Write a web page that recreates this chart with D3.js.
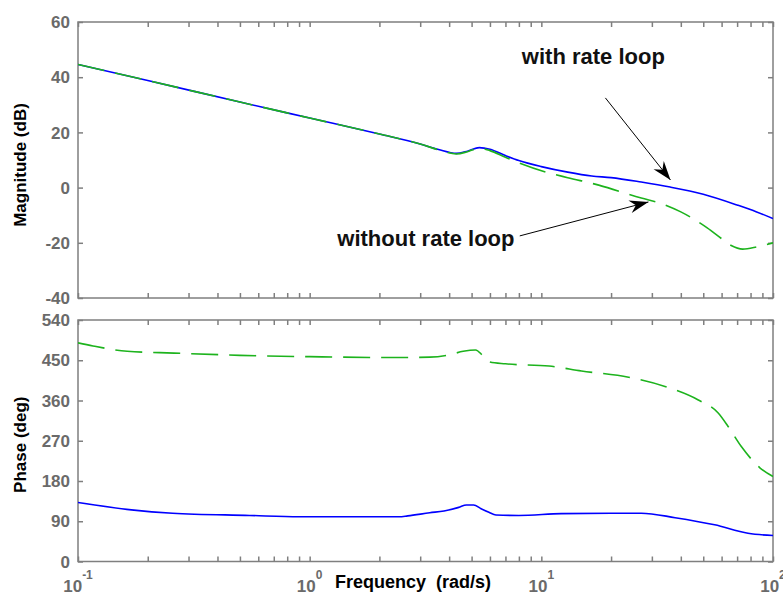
<!DOCTYPE html>
<html>
<head>
<meta charset="utf-8">
<script src="https://cdn.jsdelivr.net/npm/d3@7"></script>
<style>
  body { margin: 0; background: #fff; }
  text { font-family: "Liberation Sans", Arial, sans-serif; }
</style>
</head>
<body>
<div id="chart"></div>
<script>
// Data
const magWithFreq = [0.1, 0.2, 0.5, 1, 2, 3, 3.6, 4.3, 4.8, 5.4, 6, 7, 8, 10, 13, 16.5, 20, 27, 36, 50, 70, 85, 100];
const magWith     = [44.6, 38.8, 31.0, 25.2, 19.4, 15.8, 13.8, 12.4, 13.2, 14.5, 13.9, 11.6, 9.8, 7.6, 5.6, 4.2, 3.6, 2.0, 0.2, -2.4, -6.3, -8.8, -11.2];

const magWithoutFreq = [0.1, 0.2, 0.5, 1, 2, 3, 3.6, 4.3, 4.8, 5.4, 6, 7, 8, 10.8, 13, 17.7, 27, 33, 40, 52, 60, 66, 74, 85, 100];
const magWithout     = [44.6, 38.8, 31.0, 25.2, 19.4, 15.8, 13.7, 12.2, 13.0, 14.3, 13.4, 11.0, 9.0, 5.3, 3.6, 0.9, -3.8, -5.8, -8.8, -14.6, -18.5, -21.0, -22.3, -21.5, -20.0];

const phWithFreq = [0.1, 0.17, 0.256, 0.55, 0.9, 2.43, 2.65, 3.3, 3.8, 4.4, 4.75, 5.1, 5.5, 5.94, 6.37, 8, 12.2, 20, 27, 37.8, 56, 78, 100];
const phWith     = [132, 115.5, 108, 103, 100, 100, 102, 109, 113, 121, 126.5, 126.5, 118, 110, 104, 103, 107, 108, 108, 98, 82, 63, 58];

const phWithoutFreq = [0.1, 0.116, 0.163, 0.26, 0.5, 1, 2.4, 3.3, 4, 4.6, 5.2, 5.6, 6, 7, 10.8, 14.9, 23.8, 35.3, 47.6, 58, 64, 73, 88, 100];
const phWithout     = [489, 482, 470, 466, 461, 458, 456, 457, 462, 470, 473, 460, 446, 442, 437, 426, 412, 389, 361, 332, 302, 257, 209, 190];

const magTicks = [-40, -20, 0, 20, 40, 60];
const phTicks = [0, 90, 180, 270, 360, 450, 540];
const decades = [0.1, 1, 10, 100];
const decadeExp = ['-1', '0', '1', '2'];

// annotations: text anchor and arrow [from, to] in data units (freq, dB)
const notes = [
    { text: 'with rate loop', at: [8.24, 44.8], from: [18.9, 32.5], to: [36.1, 2.75] },
    { text: 'without rate loop', at: [1.316, -21.2], from: [8.07, -17.5], to: [29, -5.2] }
];

// Layout
const WIDTH = 783;
const HEIGHT = 597;
const LEFT = 78;
const RIGHT = 773;
const MAG_TOP = 22;
const MAG_BOT = 298;
const PH_TOP = 320;
const PH_BOT = 561.5;
const AXIS_COLOR = '#7f7f7f';
const LABEL_COLOR = '#6a6a6a';

const svg = d3.select('#chart').append('svg')
    .attr('width', WIDTH).attr('height', HEIGHT);

const x = d3.scaleLog().domain([0.1, 100]).range([LEFT, RIGHT]);
const yMag = d3.scaleLinear().domain([-40, 60]).range([MAG_BOT, MAG_TOP]);
const yPh = d3.scaleLinear().domain([0, 540]).range([PH_BOT, PH_TOP]);

const minor = x.ticks();

function buildPanel(y, ticks, top, bot, id) {
    const g = svg.append('g');

    svg.append('clipPath').attr('id', id)
        .append('rect')
        .attr('x', LEFT).attr('y', top)
        .attr('width', RIGHT - LEFT).attr('height', bot - top);

    // box
    g.append('rect')
        .attr('x', LEFT).attr('y', top)
        .attr('width', RIGHT - LEFT).attr('height', bot - top)
        .attr('fill', 'none')
        .attr('stroke', AXIS_COLOR)
        .attr('stroke-width', 1.5);

    // inward ticks on all four sides
    const axes = [
        [d3.axisBottom(x).tickValues(minor), `translate(0,${bot})`],
        [d3.axisTop(x).tickValues(minor), `translate(0,${top})`],
        [d3.axisLeft(y).tickValues(ticks), `translate(${LEFT},0)`],
        [d3.axisRight(y).tickValues(ticks), `translate(${RIGHT},0)`]
    ];
    axes.forEach(([axis, tr]) => {
        const a = g.append('g')
            .attr('transform', tr)
            .call(axis.tickSize(-5).tickSizeOuter(0).tickFormat(''));
        a.select('.domain').remove();
        a.selectAll('line').attr('stroke', AXIS_COLOR).attr('stroke-width', 1.5);
    });

    // y tick labels
    g.selectAll('.ylab')
        .data(ticks)
        .enter().append('text')
        .attr('x', LEFT - 8)
        .attr('y', d => y(d))
        .attr('dy', '0.36em')
        .attr('text-anchor', 'end')
        .attr('font-size', 17)
        .attr('font-weight', 'bold')
        .attr('fill', LABEL_COLOR)
        .text(d => d);

    return g;
}

const magPanel = buildPanel(yMag, magTicks, MAG_TOP, MAG_BOT, 'clipMag');
const phPanel = buildPanel(yPh, phTicks, PH_TOP, PH_BOT, 'clipPh');

// Curves
function drawLine(panel, clip, xs, ys, y, color, dashed) {
    const line = d3.line()
        .x(d => x(d[0]))
        .y(d => y(d[1]))
        .curve(d3.curveMonotoneX);
    panel.append('path')
        .datum(xs.map((f, i) => [f, ys[i]]))
        .attr('d', line)
        .attr('clip-path', `url(#${clip})`)
        .attr('fill', 'none')
        .attr('stroke', color)
        .attr('stroke-width', 1.6)
        .attr('stroke-dasharray', dashed ? '27,11' : null);
}

drawLine(magPanel, 'clipMag', magWithFreq, magWith, yMag, '#0000ff', false);
drawLine(magPanel, 'clipMag', magWithoutFreq, magWithout, yMag, '#1db31d', true);
drawLine(phPanel, 'clipPh', phWithFreq, phWith, yPh, '#0000ff', false);
drawLine(phPanel, 'clipPh', phWithoutFreq, phWithout, yPh, '#1db31d', true);

// x tick labels 10^n under the phase panel
decades.forEach((d, i) => {
    const t = svg.append('text')
        .attr('x', x(d))
        .attr('y', 592)
        .attr('text-anchor', 'middle')
        .attr('font-weight', 'bold')
        .attr('fill', LABEL_COLOR);
    t.append('tspan').attr('font-size', 17).text('10');
    t.append('tspan').attr('font-size', 12).attr('dy', -13).text(decadeExp[i]);
});

// axis labels
svg.append('text')
    .attr('transform', `translate(26,${(MAG_TOP + MAG_BOT) / 2 + 5}) rotate(-90)`)
    .attr('text-anchor', 'middle')
    .attr('font-size', 17)
    .attr('font-weight', 'bold')
    .attr('fill', '#000')
    .text('Magnitude (dB)');

svg.append('text')
    .attr('transform', `translate(26,${(PH_TOP + PH_BOT) / 2 + 4}) rotate(-90)`)
    .attr('text-anchor', 'middle')
    .attr('font-size', 17)
    .attr('font-weight', 'bold')
    .attr('fill', '#000')
    .text('Phase (deg)');

svg.append('text')
    .attr('x', 413)
    .attr('y', 588)
    .attr('text-anchor', 'middle')
    .attr('font-size', 18)
    .attr('font-weight', 'bold')
    .attr('fill', '#000')
    .text('Frequency\u00a0 (rad/s)');

// annotations with arrows
function arrowHead(x1, y1, x2, y2) {
    const a = Math.atan2(y2 - y1, x2 - x1);
    const len = 19, half = 6.5, notch = 13;
    const ux = Math.cos(a), uy = Math.sin(a);
    const px = -uy, py = ux;
    const pts = [
        [x2, y2],
        [x2 - ux * len + px * half, y2 - uy * len + py * half],
        [x2 - ux * notch, y2 - uy * notch],
        [x2 - ux * len - px * half, y2 - uy * len - py * half]
    ];
    return 'M' + pts.map(p => p.join(',')).join('L') + 'Z';
}

notes.forEach(n => {
    const x1 = x(n.from[0]), y1 = yMag(n.from[1]);
    const x2 = x(n.to[0]), y2 = yMag(n.to[1]);
    svg.append('line')
        .attr('x1', x1).attr('y1', y1)
        .attr('x2', x2).attr('y2', y2)
        .attr('stroke', '#000')
        .attr('stroke-width', 1);
    svg.append('path')
        .attr('d', arrowHead(x1, y1, x2, y2))
        .attr('fill', '#000');
    svg.append('text')
        .attr('x', x(n.at[0]))
        .attr('y', yMag(n.at[1]))
        .attr('font-size', 22)
        .attr('font-weight', 'bold')
        .attr('fill', '#111')
        .text(n.text);
});
</script>
</body>
</html>
